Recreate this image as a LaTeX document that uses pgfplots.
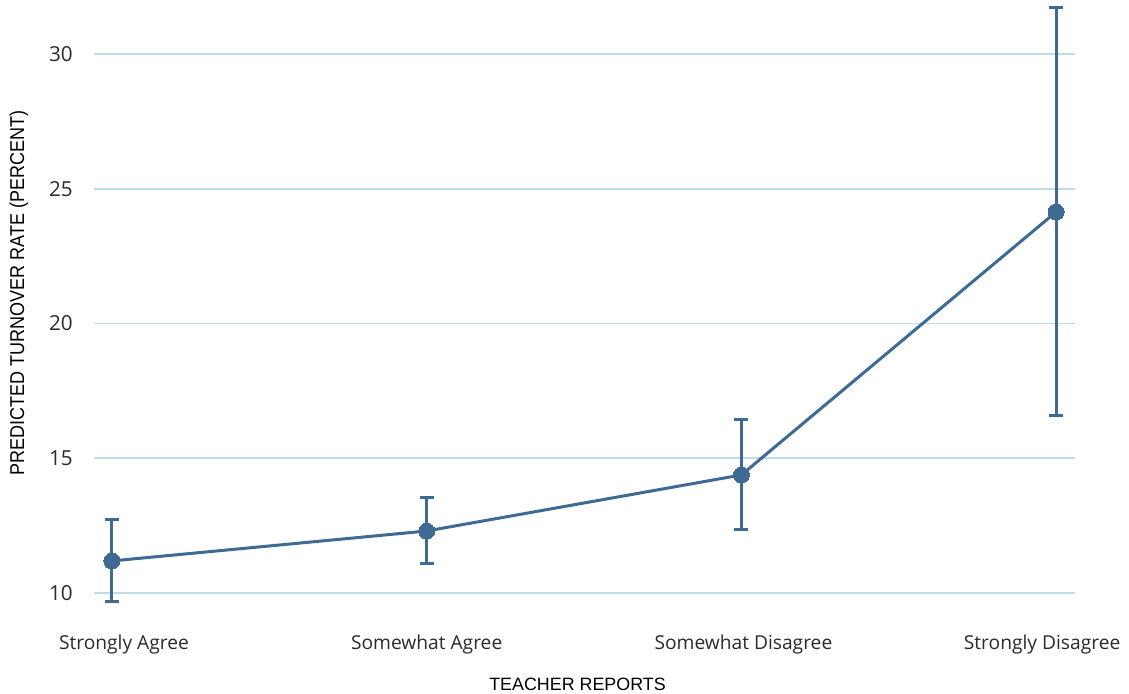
\documentclass[border=0pt]{standalone}
\usepackage{pgfplots}
\pgfplotsset{compat=1.18}
\usepackage{fontspec}
\setmainfont{Open Sans}
\newfontfamily\labfont{Liberation Sans}
\newlength{\px}\setlength{\px}{0.75pt}
\definecolor{lineblue}{HTML}{3F6A93}
\definecolor{gridblue}{HTML}{BADDE6}
\definecolor{txt}{HTML}{2A2A2A}
\begin{document}
\begin{tikzpicture}
\begin{axis}[
  scale only axis,
  width=981\px, height=539\px,
  xmin=-0.057, xmax=3.06,
  ymin=10, ymax=30,
  clip=false,
  axis line style={draw=none},
  major tick length=0pt,
  ytick={10,15,20,25,30},
  ymajorgrids,
  grid style={gridblue, line width=1.6\px},
  xtick={0,1,2,3},
  xticklabels={\hspace*{24\px}Strongly Agree,Somewhat Agree,\hspace*{4\px}Somewhat Disagree,Strongly Disagree\hspace*{28\px}},
  /pgf/number format/assume math mode=true,
  xticklabel style={anchor=north, inner sep=0pt, yshift=-42\px, font=\fontsize{14.4}{17}\selectfont, text=txt},
  yticklabel style={anchor=east, inner sep=0pt, xshift=-21\px, font=\fontsize{15.5}{17}\selectfont, text=txt},
  xlabel={TEACHER REPORTS},
  xlabel style={at={(axis description cs:0.5,0)}, anchor=north, inner sep=0pt, yshift=-85\px, xshift=-7\px, font=\labfont\fontsize{13.4}{15}\selectfont, text=black},
  ylabel={\scalebox{0.9}[1]{PREDICTED TURNOVER RATE (PERCENT)}},
  ylabel style={at={(axis description cs:-0.0765,0.557)}, anchor=center, inner sep=0pt, font=\labfont\fontsize{15}{17}\selectfont, text=black},
]
\addplot[lineblue, line width=3\px, mark=*, mark size=8\px,
  mark options={fill=lineblue, draw=lineblue, line width=0pt},
  error bars/.cd, y dir=both, y explicit,
  error bar style={line width=3\px, lineblue},
  error mark options={rotate=90, mark size=7\px, line width=3\px, lineblue}]
  table[x=x, y=y, y error plus=ep, y error minus=em] {
x y ep em
0 11.19 1.52 1.52
1 12.30 1.23 1.19
2 14.38 2.04 2.04
3 24.14 7.57 7.57
};
\end{axis}
\pgfresetboundingbox
\path (current axis.south west) ++(-94\px,-101\px) coordinate (bl);
\path (current axis.north east) ++(54\px,54\px) coordinate (tr);
\path[use as bounding box] (bl) rectangle (tr);
\end{tikzpicture}
\end{document}
